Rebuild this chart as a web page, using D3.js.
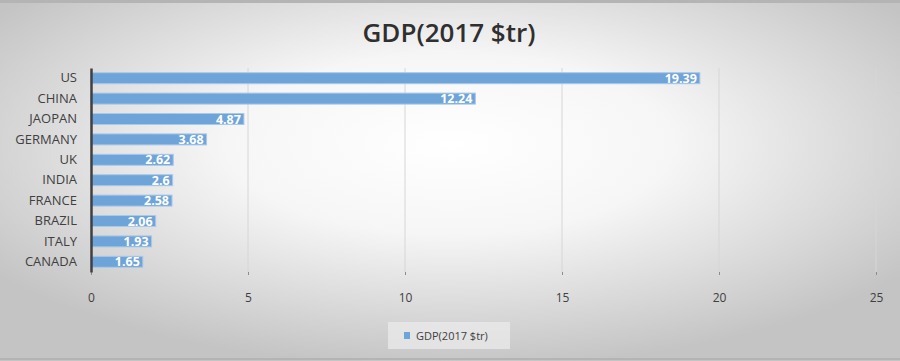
<!DOCTYPE html>
<html>
<head>
<meta charset="utf-8">
<script src="https://cdn.jsdelivr.net/npm/d3@7"></script>
<style>
  body { margin: 0; background: #fff; }
  text { font-family: "Open Sans", "Liberation Sans", sans-serif; }
</style>
</head>
<body>
<div id="chart"></div>
<script>
var countries = ["US", "CHINA", "JAOPAN", "GERMANY", "UK", "INDIA", "FRANCE", "BRAZIL", "ITALY", "CANADA"];
var gdp = [19.39, 12.24, 4.87, 3.68, 2.62, 2.6, 2.58, 2.06, 1.93, 1.65];
var ticks = [0, 5, 10, 15, 20, 25];
var title = "GDP(2017 $tr)";

var width = 900, height = 361,
	plotLeft = 91, plotRight = 876, plotTop = 68, plotBottom = 272;

var svg = d3.select("#chart").append("svg")
	.attr("width", width)
	.attr("height", height);

// background like the office chart, white centre fading to grey
var grad = svg.append("defs").append("radialGradient")
	.attr("id", "bg").attr("cx", "50%").attr("cy", "40%").attr("r", "62%");
grad.append("stop").attr("offset", "0%").attr("stop-color", "#ffffff");
grad.append("stop").attr("offset", "40%").attr("stop-color", "#f6f6f6");
grad.append("stop").attr("offset", "100%").attr("stop-color", "#c4c4c4");

svg.append("rect").attr("width", width).attr("height", height).attr("fill", "url(#bg)");
svg.append("line").attr("x1", 0).attr("x2", width).attr("y1", 1.5).attr("y2", 1.5)
	.attr("stroke", "#b4b4b4").attr("stroke-width", 3);
svg.append("line").attr("x1", 0).attr("x2", width).attr("y1", 359).attr("y2", 359)
	.attr("stroke", "#b4b4b4").attr("stroke-width", 2);

var x = d3.scaleLinear().domain([0, 25]).range([plotLeft, plotRight]);
var y = d3.scaleBand().domain(countries).range([plotTop, plotBottom]).paddingInner(0.46).paddingOuter(0.23);

// gridlines
svg.append("g").selectAll("line")
	.data(ticks.slice(1))
	.enter().append("line")
	.attr("x1", function(d){ return x(d); })
	.attr("x2", function(d){ return x(d); })
	.attr("y1", plotTop).attr("y2", plotBottom)
	.attr("stroke", "#d6d6d6").attr("stroke-width", 1);

var xAxis = d3.axisBottom(x).tickValues(ticks).tickSize(3).tickPadding(18);
var gx = svg.append("g").attr("transform", "translate(0," + plotBottom + ")").call(xAxis);
gx.select(".domain").remove();
gx.selectAll(".tick line").attr("stroke", "#8c8c8c");
gx.selectAll("text").attr("fill", "#404040").style("font-size", "12px");

// bars
var bar = svg.append("g").selectAll("g")
	.data(countries)
	.enter().append("g");

bar.append("rect")
	.attr("x", x(0))
	.attr("y", function(d){ return y(d); })
	.attr("height", y.bandwidth())
	.attr("width", function(d, i){ return x(gdp[i]) - x(0); })
	.attr("fill", "#6fa4d8")
	.attr("stroke", "#a9c9ea")
	.attr("stroke-width", 1);

bar.append("text")
	.attr("x", function(d, i){ return x(gdp[i]) - 3; })
	.attr("y", function(d){ return y(d) + y.bandwidth() / 2; })
	.attr("dy", ".36em")
	.attr("text-anchor", "end")
	.attr("fill", "#fff")
	.style("font-size", "12.5px")
	.style("font-weight", "bold")
	.text(function(d, i){ return gdp[i]; });

// category labels
var gy = svg.append("g").attr("transform", "translate(" + plotLeft + ",0)")
	.call(d3.axisLeft(y).tickSize(0).tickPadding(14));
gy.select(".domain").attr("stroke", "#404040").attr("stroke-width", 2.5);
gy.selectAll("text").attr("fill", "#404040").style("font-size", "13px");

// title
svg.append("text")
	.attr("x", 449).attr("y", 42)
	.attr("text-anchor", "middle")
	.attr("fill", "#2f2f2f")
	.style("font-size", "26px")
	.style("font-weight", "600")
	.text(title);

// legend
var lg = svg.append("g");
lg.append("rect").attr("x", 388).attr("y", 322).attr("width", 122).attr("height", 27)
	.attr("fill", "#ececec").attr("opacity", 0.7);
lg.append("rect").attr("x", 404).attr("y", 332).attr("width", 6).attr("height", 7).attr("fill", "#6fa4d8");
lg.append("text").attr("x", 416).attr("y", 340).attr("fill", "#404040")
	.style("font-size", "11px").text(title);
</script>
</body>
</html>
